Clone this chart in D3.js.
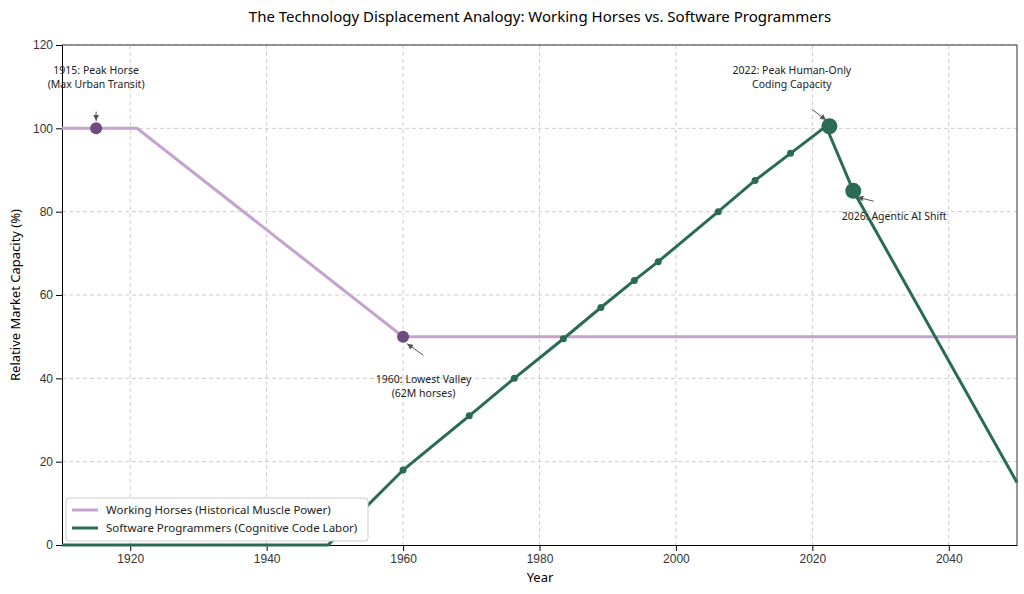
<!DOCTYPE html>
<html><head><meta charset="utf-8">
<script src="https://cdn.jsdelivr.net/npm/d3@7"></script>
<style>body{margin:0;background:#fff;font-family:"Noto Sans",sans-serif}</style>
</head><body><svg id="chart" width="1024" height="594"></svg>
<script>
const horseYears = [1910, 1921, 1960, 2050];
const horseValues = [100, 100, 50, 50];
const progYears = [1910, 1949, 1960, 1969.7, 1976.3, 1983.5, 1989, 1993.9, 1997.4, 2006.2, 2011.6, 2016.8, 2022, 2026, 2050];
const progValues = [0, 0, 18, 31, 40, 49.5, 57, 63.5, 68, 80, 87.5, 94, 100.5, 85, 15];
const progDots = [1960, 1969.7, 1976.3, 1983.5, 1989, 1993.9, 1997.4, 2006.2, 2011.6, 2016.8];
const xTicks = [1920, 1940, 1960, 1980, 2000, 2020, 2040];
const yTicks = [0, 20, 40, 60, 80, 100, 120];

const horseColor = "#c5a3cf", horseDot = "#6e4a7e", progColor = "#2a6b54";
const svg = d3.select("#chart");
const m = {l: 62, r: 1017, t: 45, b: 545};
const x = d3.scaleLinear().domain([1910, 2050]).range([m.l, m.r]);
const y = d3.scaleLinear().domain([0, 120]).range([m.b, m.t]);

// grid
svg.append("g").selectAll("line").data(xTicks).join("line")
  .attr("x1", d => x(d)).attr("x2", d => x(d)).attr("y1", m.t).attr("y2", m.b)
  .attr("stroke", "#ccc").attr("stroke-dasharray", "4,3");
svg.append("g").selectAll("line").data(yTicks.slice(1)).join("line")
  .attr("x1", m.l).attr("x2", m.r).attr("y1", d => y(d)).attr("y2", d => y(d))
  .attr("stroke", "#ccc").attr("stroke-dasharray", "4,3");

svg.append("g").attr("transform", `translate(0,${m.b})`)
  .call(d3.axisBottom(x).tickValues(xTicks).tickFormat(d3.format("d")).tickSizeOuter(0))
  .call(g => g.selectAll("text").attr("font-size", 12).attr("fill", "#333"));
svg.append("g").attr("transform", `translate(${m.l},0)`)
  .call(d3.axisLeft(y).tickValues(yTicks).tickSizeOuter(0))
  .call(g => g.selectAll("text").attr("font-size", 12).attr("fill", "#333"));
svg.append("line").attr("x1", m.l).attr("x2", m.r).attr("y1", m.t).attr("y2", m.t).attr("stroke", "#333");
svg.append("line").attr("x1", m.r).attr("x2", m.r).attr("y1", m.t).attr("y2", m.b).attr("stroke", "#333");

svg.append("text").attr("x", 540).attr("y", 582).attr("text-anchor", "middle").attr("font-size", 13).text("Year");
svg.append("text").attr("transform", `translate(20,${(m.t + m.b) / 2}) rotate(-90)`)
  .attr("text-anchor", "middle").attr("font-size", 13).text("Relative Market Capacity (%)");
svg.append("text").attr("x", 540).attr("y", 22).attr("text-anchor", "middle").attr("font-size", 15)
  .text("The Technology Displacement Analogy: Working Horses vs. Software Programmers");

const line = d3.line().x(d => x(d[0])).y(d => y(d[1]));
svg.append("path").datum(d3.zip(horseYears, horseValues)).attr("d", line)
  .attr("fill", "none").attr("stroke", horseColor).attr("stroke-width", 3);
svg.append("path").datum(d3.zip(progYears, progValues)).attr("d", line)
  .attr("fill", "none").attr("stroke", progColor).attr("stroke-width", 3);

svg.append("g").selectAll("circle").data(progDots).join("circle")
  .attr("cx", d => x(d)).attr("cy", d => y(progValues[progYears.indexOf(d)])).attr("r", 3.5).attr("fill", progColor);

const points = [
  {yr: 1915, v: 100, r: 6, c: horseDot, lines: ["1915: Peak Horse", "(Max Urban Transit)"], tx: 1915, ty: 113},
  {yr: 1960, v: 50, r: 6, c: horseDot, lines: ["1960: Lowest Valley", "(62M horses)"], tx: 1963, ty: 39},
  {yr: 2022.5, v: 100.5, r: 8, c: progColor, lines: ["2022: Peak Human-Only", "Coding Capacity"], tx: 2017, ty: 113},
  {yr: 2026, v: 85, r: 8, c: progColor, lines: ["2026: Agentic AI Shift"], tx: 2032, ty: 78}
];
points.forEach(p => {
  svg.append("circle").attr("cx", x(p.yr)).attr("cy", y(p.v)).attr("r", p.r).attr("fill", p.c);
  const t = svg.append("text").attr("x", x(p.tx)).attr("y", y(p.ty)).attr("text-anchor", "middle").attr("font-size", 10.5).attr("fill", "#222");
  p.lines.forEach((s, i) => t.append("tspan").attr("x", x(p.tx)).attr("dy", i ? 14 : 0).text(s));
});
// annotation arrows
svg.append("defs").append("marker").attr("id", "ah").attr("viewBox", "0 -5 10 10").attr("refX", 10)
  .attr("markerWidth", 6).attr("markerHeight", 6).attr("orient", "auto")
  .append("path").attr("d", "M0,-5L10,0L0,5").attr("fill", "#555");
const arrows = [[1915, 104, 1915, 101.8], [1963, 45.5, 1960.6, 48.3], [2020, 104.5, 2022, 102], [2029, 82.5, 2026.6, 83.5]];
arrows.forEach(a => svg.append("line").attr("x1", x(a[0])).attr("y1", y(a[1])).attr("x2", x(a[2])).attr("y2", y(a[3]))
  .attr("stroke", "#555").attr("marker-end", "url(#ah)"));

// legend
const lg = svg.append("g").attr("transform", "translate(66,498)");
lg.append("rect").attr("width", 302).attr("height", 43).attr("fill", "#fff").attr("stroke", "#ccc").attr("rx", 3);
[["Working Horses (Historical Muscle Power)", horseColor], ["Software Programmers (Cognitive Code Labor)", progColor]].forEach((d, i) => {
  lg.append("line").attr("x1", 6).attr("x2", 32).attr("y1", 12 + i * 18).attr("y2", 12 + i * 18).attr("stroke", d[1]).attr("stroke-width", 3);
  lg.append("text").attr("x", 40).attr("y", 16 + i * 18).attr("font-size", 11.5).attr("fill", "#222").text(d[0]);
});
</script></body></html>
